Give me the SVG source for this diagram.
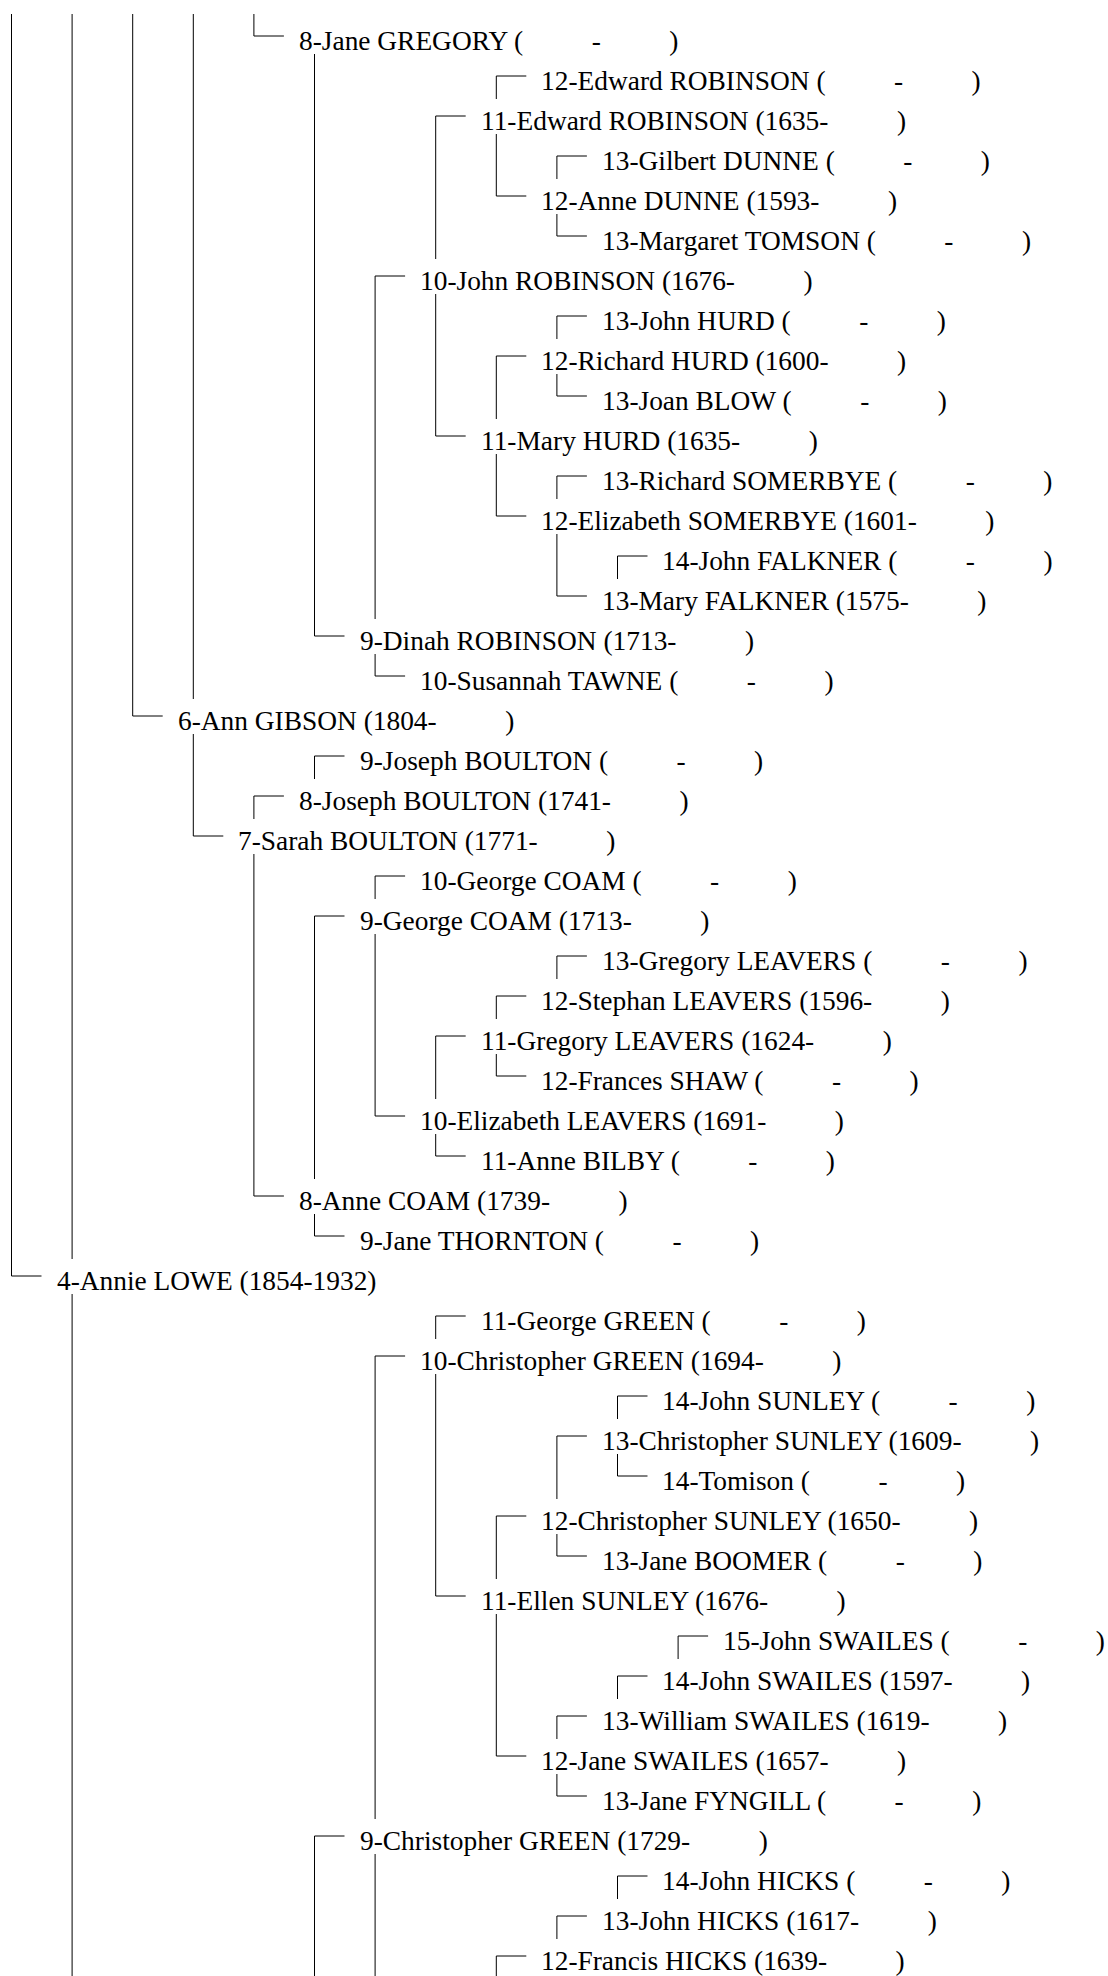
<svg xmlns="http://www.w3.org/2000/svg" width="1108" height="1976" viewBox="0 0 1108 1976" xml:space="preserve">
<style>
.t{font-family:"Liberation Serif","Times New Roman",serif;font-size:27.4px;fill:#000;white-space:pre}
.c path{fill:none;stroke:#000;stroke-width:1}
</style>
<rect width="1108" height="1976" fill="#fff"/>
<g id="connectors" class="c">
<path d="M11.5 14V1276H41.5"/>
<path d="M72.1 14V1259"/>
<path d="M72.1 1294V1976"/>
<path d="M132.7 14V716H162.7"/>
<path d="M193.3 14V699"/>
<path d="M253.9 14V36H283.9"/>
<path d="M314.5 54V636H344.5"/>
<path d="M375.1 654V676H405.1"/>
<path d="M375.1 619V276H405.1"/>
<path d="M435.7 259V116H465.7"/>
<path d="M435.7 294V436H465.7"/>
<path d="M496.3 99V76H526.3"/>
<path d="M496.3 134V196H526.3"/>
<path d="M496.3 419V356H526.3"/>
<path d="M496.3 454V516H526.3"/>
<path d="M556.9 179V156H586.9"/>
<path d="M556.9 214V236H586.9"/>
<path d="M556.9 339V316H586.9"/>
<path d="M556.9 374V396H586.9"/>
<path d="M556.9 499V476H586.9"/>
<path d="M556.9 534V596H586.9"/>
<path d="M617.5 579V556H647.5"/>
<path d="M193.3 734V836H223.3"/>
<path d="M253.9 819V796H283.9"/>
<path d="M253.9 854V1196H283.9"/>
<path d="M314.5 779V756H344.5"/>
<path d="M314.5 1179V916H344.5"/>
<path d="M314.5 1214V1236H344.5"/>
<path d="M375.1 899V876H405.1"/>
<path d="M375.1 934V1116H405.1"/>
<path d="M435.7 1099V1036H465.7"/>
<path d="M435.7 1134V1156H465.7"/>
<path d="M496.3 1019V996H526.3"/>
<path d="M496.3 1054V1076H526.3"/>
<path d="M556.9 979V956H586.9"/>
<path d="M435.7 1339V1316H465.7"/>
<path d="M375.1 1819V1356H405.1"/>
<path d="M375.1 1854V1976"/>
<path d="M435.7 1374V1596H465.7"/>
<path d="M496.3 1579V1516H526.3"/>
<path d="M496.3 1614V1756H526.3"/>
<path d="M556.9 1499V1436H586.9"/>
<path d="M556.9 1534V1556H586.9"/>
<path d="M617.5 1419V1396H647.5"/>
<path d="M617.5 1454V1476H647.5"/>
<path d="M678.1 1659V1636H708.1"/>
<path d="M617.5 1699V1676H647.5"/>
<path d="M556.9 1739V1716H586.9"/>
<path d="M556.9 1774V1796H586.9"/>
<path d="M314.5 1976V1836H344.5"/>
<path d="M617.5 1899V1876H647.5"/>
<path d="M556.9 1939V1916H586.9"/>
<path d="M496.3 1976V1956H526.3"/>
</g>
<g id="n0"><text class="t" x="299" y="50">8-Jane GREGORY (          -          )</text></g>
<g id="n1"><text class="t" x="541" y="90">12-Edward ROBINSON (          -          )</text></g>
<g id="n2"><text class="t" x="481" y="130">11-Edward ROBINSON (1635-          )</text></g>
<g id="n3"><text class="t" x="602" y="170">13-Gilbert DUNNE (          -          )</text></g>
<g id="n4"><text class="t" x="541" y="210">12-Anne DUNNE (1593-          )</text></g>
<g id="n5"><text class="t" x="602" y="250">13-Margaret TOMSON (          -          )</text></g>
<g id="n6"><text class="t" x="420" y="290">10-John ROBINSON (1676-          )</text></g>
<g id="n7"><text class="t" x="602" y="330">13-John HURD (          -          )</text></g>
<g id="n8"><text class="t" x="541" y="370">12-Richard HURD (1600-          )</text></g>
<g id="n9"><text class="t" x="602" y="410">13-Joan BLOW (          -          )</text></g>
<g id="n10"><text class="t" x="481" y="450">11-Mary HURD (1635-          )</text></g>
<g id="n11"><text class="t" x="602" y="490">13-Richard SOMERBYE (          -          )</text></g>
<g id="n12"><text class="t" x="541" y="530">12-Elizabeth SOMERBYE (1601-          )</text></g>
<g id="n13"><text class="t" x="662" y="570">14-John FALKNER (          -          )</text></g>
<g id="n14"><text class="t" x="602" y="610">13-Mary FALKNER (1575-          )</text></g>
<g id="n15"><text class="t" x="360" y="650">9-Dinah ROBINSON (1713-          )</text></g>
<g id="n16"><text class="t" x="420" y="690">10-Susannah TAWNE (          -          )</text></g>
<g id="n17"><text class="t" x="178" y="730">6-Ann GIBSON (1804-          )</text></g>
<g id="n18"><text class="t" x="360" y="770">9-Joseph BOULTON (          -          )</text></g>
<g id="n19"><text class="t" x="299" y="810">8-Joseph BOULTON (1741-          )</text></g>
<g id="n20"><text class="t" x="238" y="850">7-Sarah BOULTON (1771-          )</text></g>
<g id="n21"><text class="t" x="420" y="890">10-George COAM (          -          )</text></g>
<g id="n22"><text class="t" x="360" y="930">9-George COAM (1713-          )</text></g>
<g id="n23"><text class="t" x="602" y="970">13-Gregory LEAVERS (          -          )</text></g>
<g id="n24"><text class="t" x="541" y="1010">12-Stephan LEAVERS (1596-          )</text></g>
<g id="n25"><text class="t" x="481" y="1050">11-Gregory LEAVERS (1624-          )</text></g>
<g id="n26"><text class="t" x="541" y="1090">12-Frances SHAW (          -          )</text></g>
<g id="n27"><text class="t" x="420" y="1130">10-Elizabeth LEAVERS (1691-          )</text></g>
<g id="n28"><text class="t" x="481" y="1170">11-Anne BILBY (          -          )</text></g>
<g id="n29"><text class="t" x="299" y="1210">8-Anne COAM (1739-          )</text></g>
<g id="n30"><text class="t" x="360" y="1250">9-Jane THORNTON (          -          )</text></g>
<g id="n31"><text class="t" x="57" y="1290">4-Annie LOWE (1854-1932)</text></g>
<g id="n32"><text class="t" x="481" y="1330">11-George GREEN (          -          )</text></g>
<g id="n33"><text class="t" x="420" y="1370">10-Christopher GREEN (1694-          )</text></g>
<g id="n34"><text class="t" x="662" y="1410">14-John SUNLEY (          -          )</text></g>
<g id="n35"><text class="t" x="602" y="1450">13-Christopher SUNLEY (1609-          )</text></g>
<g id="n36"><text class="t" x="662" y="1490">14-Tomison (          -          )</text></g>
<g id="n37"><text class="t" x="541" y="1530">12-Christopher SUNLEY (1650-          )</text></g>
<g id="n38"><text class="t" x="602" y="1570">13-Jane BOOMER (          -          )</text></g>
<g id="n39"><text class="t" x="481" y="1610">11-Ellen SUNLEY (1676-          )</text></g>
<g id="n40"><text class="t" x="723" y="1650">15-John SWAILES (          -          )</text></g>
<g id="n41"><text class="t" x="662" y="1690">14-John SWAILES (1597-          )</text></g>
<g id="n42"><text class="t" x="602" y="1730">13-William SWAILES (1619-          )</text></g>
<g id="n43"><text class="t" x="541" y="1770">12-Jane SWAILES (1657-          )</text></g>
<g id="n44"><text class="t" x="602" y="1810">13-Jane FYNGILL (          -          )</text></g>
<g id="n45"><text class="t" x="360" y="1850">9-Christopher GREEN (1729-          )</text></g>
<g id="n46"><text class="t" x="662" y="1890">14-John HICKS (          -          )</text></g>
<g id="n47"><text class="t" x="602" y="1930">13-John HICKS (1617-          )</text></g>
<g id="n48"><text class="t" x="541" y="1970">12-Francis HICKS (1639-          )</text></g>
</svg>
